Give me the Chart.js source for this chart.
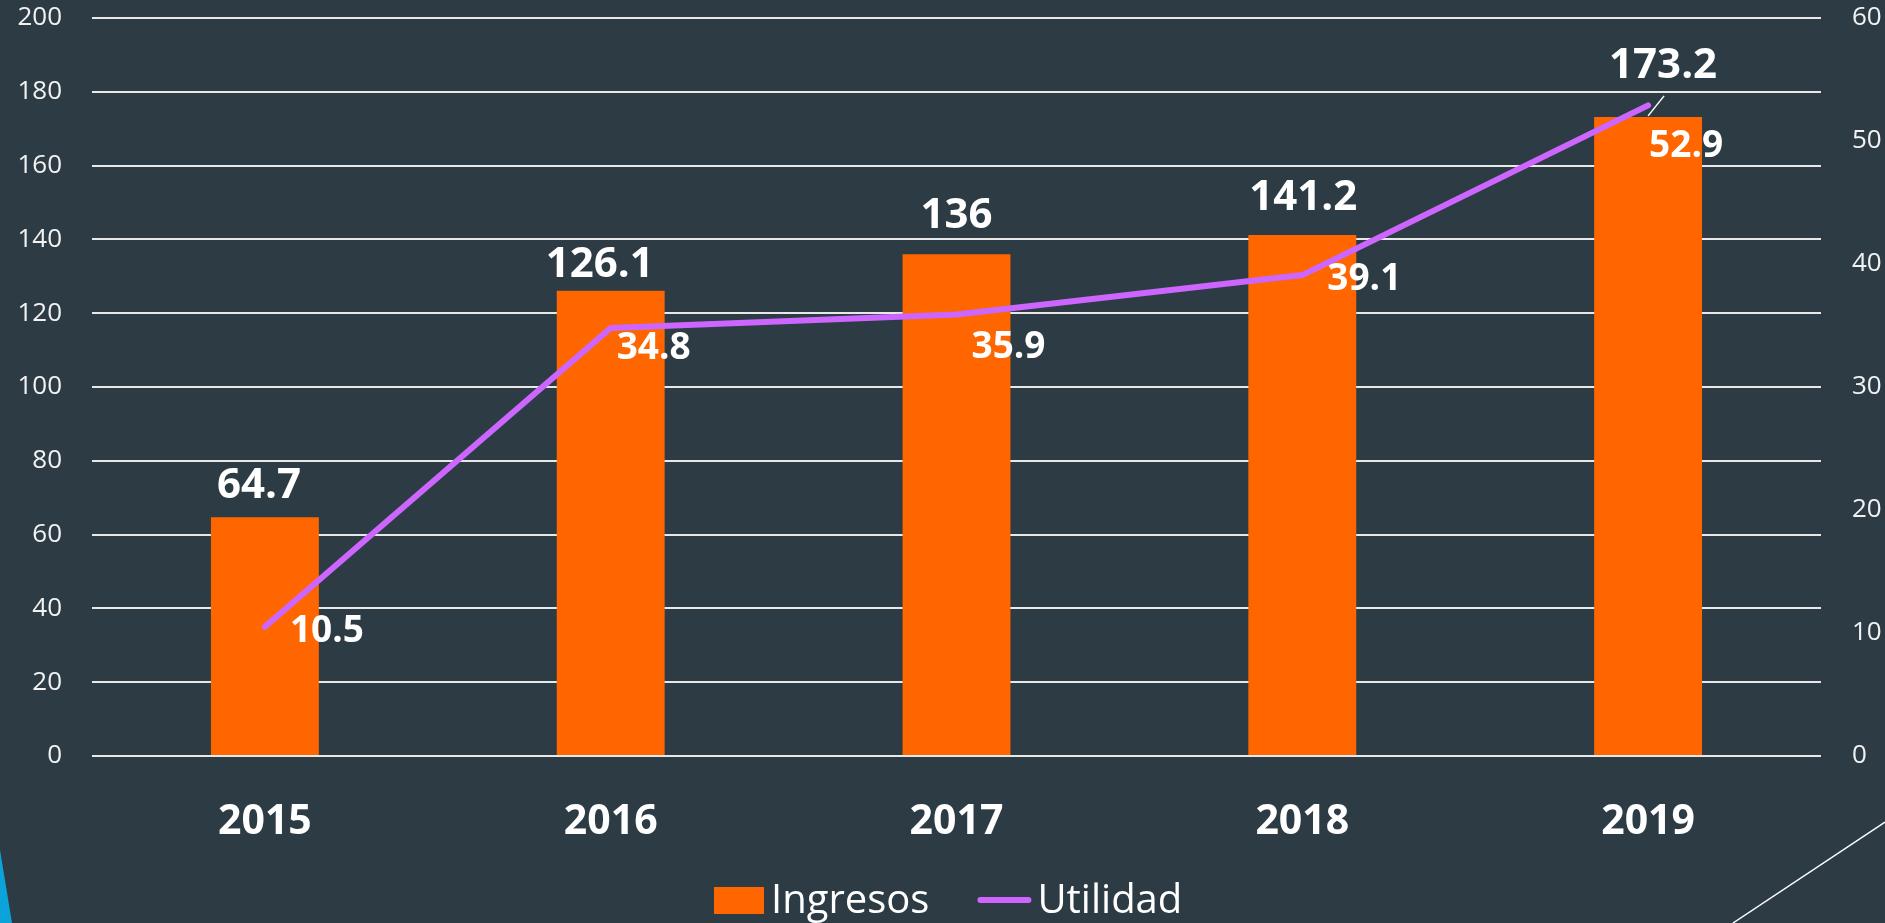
<!DOCTYPE html>
<html>
<head>
<meta charset="utf-8">
<script src="https://cdn.jsdelivr.net/npm/chart.js@4.4.1/dist/chart.umd.min.js"></script>
<style>
  html, body { margin: 0; padding: 0; background: #2d3c44; }
  #wrap { width: 1885px; height: 923px; }
</style>
</head>
<body>
<div id="wrap"><canvas id="chart"></canvas></div>
<script>
// Data
const years = ['2015', '2016', '2017', '2018', '2019'];
const ingresos = [64.7, 126.1, 136, 141.2, 173.2];
const utilidad = [10.5, 34.8, 35.9, 39.1, 52.9];
const leftTicks = [0, 20, 40, 60, 80, 100, 120, 140, 160, 180, 200];
const rightTicks = [0, 10, 20, 30, 40, 50, 60];

// Label nudges (as placed by hand in the original)
const barLabelShift = [[-6, -19], [-11, -14], [0, -26], [1, -25], [15, -39]];
const lineLabelShift = [[25, 15], [6, 31], [15, 44], [25, 15], [1, 52]];

const BG = '#2d3c44';
const ORANGE = '#ff6600';
const PURPLE = '#cc66ff';
const FONT = '"Open Sans", "DejaVu Sans", sans-serif';

// Background + corner decorations
const backdrop = {
    id: 'backdrop',
    beforeDraw(chart) {
        const ctx = chart.ctx;
        ctx.save();
        ctx.fillStyle = BG;
        ctx.fillRect(0, 0, chart.width, chart.height);
        ctx.fillStyle = '#0ba3d9';
        ctx.beginPath();
        ctx.moveTo(0, 850);
        ctx.lineTo(12, 923);
        ctx.lineTo(0, 923);
        ctx.closePath();
        ctx.fill();
        ctx.strokeStyle = '#ffffff';
        ctx.lineWidth = 1.5;
        ctx.beginPath();
        ctx.moveTo(1885, 822);
        ctx.lineTo(1733, 923);
        ctx.stroke();
        ctx.restore();
    }
};

// Value labels
const valueLabels = {
    id: 'valueLabels',
    afterDatasetsDraw(chart) {
        const ctx = chart.ctx;
        const bars = chart.getDatasetMeta(0).data;
        const pts = chart.getDatasetMeta(1).data;
        ctx.save();
        ctx.fillStyle = '#ffffff';
        ctx.textBaseline = 'alphabetic';

        ctx.font = 'bold 42px ' + FONT;
        ctx.textAlign = 'center';
        bars.forEach((bar, i) => {
            const [dx, dy] = barLabelShift[i];
            ctx.fillText(String(ingresos[i]), bar.x + dx, bar.y + dy);
        });

        // leader line for the moved 2019 label
        const last = bars[bars.length - 1];
        ctx.strokeStyle = '#ffffff';
        ctx.lineWidth = 1.5;
        ctx.beginPath();
        ctx.moveTo(last.x + 16, last.y - 21);
        ctx.lineTo(last.x, last.y - 1);
        ctx.stroke();

        ctx.font = 'bold 37px ' + FONT;
        ctx.textAlign = 'left';
        pts.forEach((p, i) => {
            const [dx, dy] = lineLabelShift[i];
            ctx.fillText(String(utilidad[i]), p.x + dx, p.y + dy);
        });
        ctx.restore();
    }
};

// Legend at the bottom
const bottomLegend = {
    id: 'bottomLegend',
    afterDraw(chart) {
        const ctx = chart.ctx;
        ctx.save();
        ctx.font = '40px ' + FONT;
        ctx.textBaseline = 'alphabetic';
        ctx.textAlign = 'left';
        let x = 714;
        const base = 913;
        ctx.fillStyle = ORANGE;
        ctx.fillRect(x, 887, 50, 27);
        ctx.fillStyle = '#ffffff';
        ctx.fillText('Ingresos', x + 57, base);
        x = x + 57 + ctx.measureText('Ingresos').width + 48;
        ctx.strokeStyle = PURPLE;
        ctx.lineWidth = 6;
        ctx.lineCap = 'round';
        ctx.beginPath();
        ctx.moveTo(x + 3, 900);
        ctx.lineTo(x + 51, 900);
        ctx.stroke();
        ctx.fillText('Utilidad', x + 60, base);
        ctx.restore();
    }
};

function noPad(scale) {
    scale.paddingTop = 0;
    scale.paddingBottom = 0;
}

const ctx = document.getElementById('chart').getContext('2d');
new Chart(ctx, {
    type: 'bar',
    data: {
        labels: years,
        datasets: [{
            label: 'Ingresos',
            data: ingresos,
            backgroundColor: ORANGE,
            borderWidth: 0,
            categoryPercentage: 1,
            barPercentage: 0.312,
            yAxisID: 'y',
            order: 1
        }, {
            type: 'line',
            label: 'Utilidad',
            data: utilidad,
            borderColor: PURPLE,
            borderWidth: 6,
            borderCapStyle: 'round',
            borderJoinStyle: 'round',
            pointRadius: 0,
            tension: 0,
            yAxisID: 'y1',
            order: 0
        }]
    },
    options: {
        responsive: true,
        maintainAspectRatio: false,
        animation: false,
        layout: { padding: { top: 18, left: 0, right: 0, bottom: 0 } },
        plugins: {
            legend: { display: false },
            tooltip: { enabled: false }
        },
        scales: {
            x: {
                grid: { display: false, drawTicks: false },
                border: { display: false },
                ticks: {
                    color: '#ffffff',
                    padding: 42,
                    font: { family: FONT, size: 41, weight: 'bold' }
                },
                afterFit(scale) { scale.height = 167; }
            },
            y: {
                position: 'left',
                min: 0,
                max: 200,
                afterBuildTicks(scale) { scale.ticks = leftTicks.map(v => ({ value: v })); },
                grid: { color: '#e8e8e8', lineWidth: 2, drawTicks: false },
                border: { display: false },
                ticks: {
                    color: '#f2f2f2',
                    padding: 30,
                    font: { family: FONT, size: 26 }
                },
                afterFit(scale) { scale.width = 92; noPad(scale); }
            },
            y1: {
                position: 'right',
                min: 0,
                max: 60,
                afterBuildTicks(scale) { scale.ticks = rightTicks.map(v => ({ value: v })); },
                grid: { display: false, drawTicks: false },
                border: { display: false },
                ticks: {
                    color: '#f2f2f2',
                    padding: 31,
                    font: { family: FONT, size: 26 }
                },
                afterFit(scale) { scale.width = 64; noPad(scale); }
            }
        }
    },
    plugins: [backdrop, valueLabels, bottomLegend]
});
</script>
</body>
</html>
